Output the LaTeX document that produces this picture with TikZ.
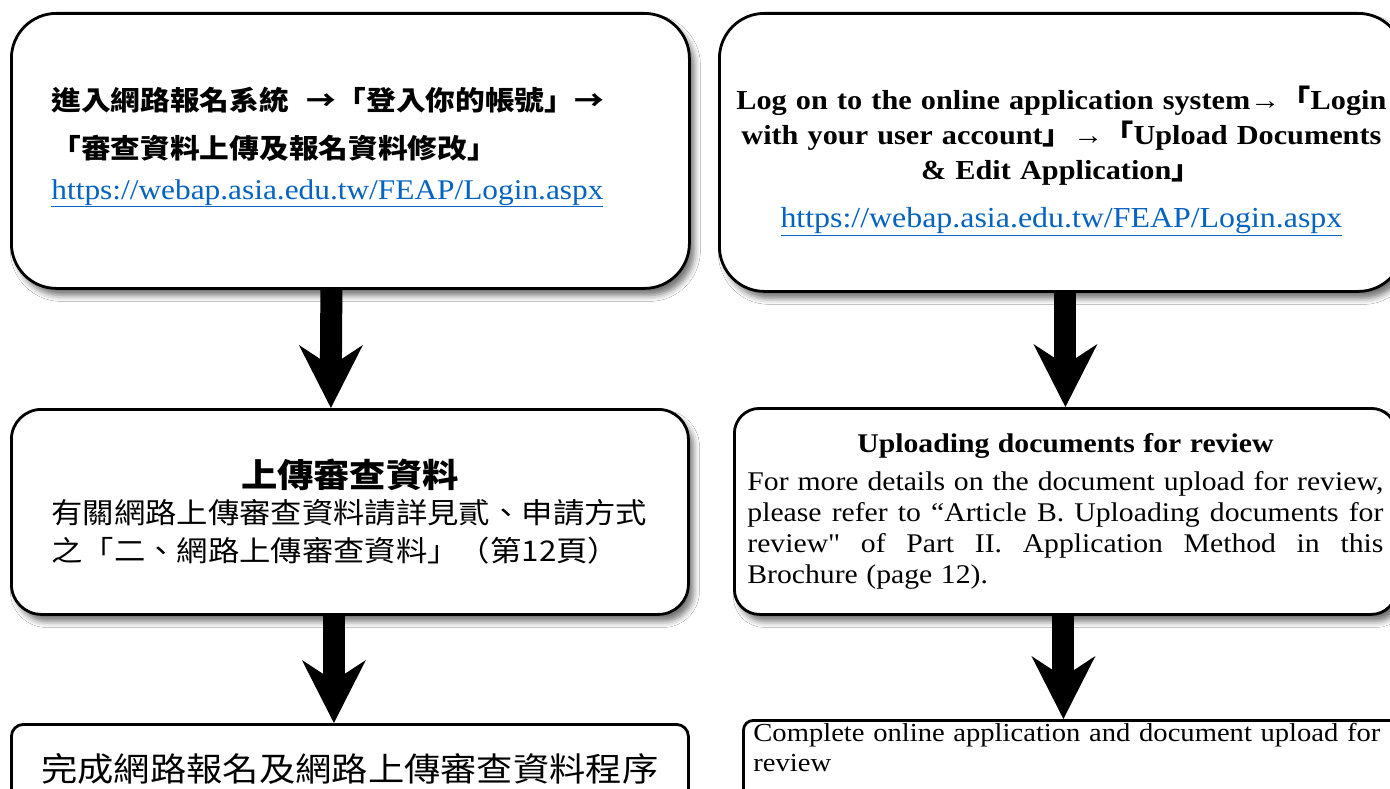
\documentclass[tikz,border=0pt]{standalone}
\usepackage{fontspec}
\setmainfont{Liberation Serif}[FakeStretch=1.1, WordSpace=1.15]
\newfontfamily\cjk{Noto Sans CJK TC}[FakeStretch=1.1]
\usepackage{tikz}
\usetikzlibrary{shadows.blur}
\definecolor{linkblue}{RGB}{5,99,193}
\newcommand{\weblink}[1]{\textcolor{linkblue}{\underline{#1}}}
\newcommand{\kbr}[1]{{\cjk #1}}
\newcommand{\straightquote}{{\addfontfeature{Ligatures=TeXOff}"}}

\begin{document}
\begin{tikzpicture}
    [
    x=1pt, y=-1pt,
    box/.style={draw, line width=2.8pt, fill=white, inner sep=0pt, anchor=north west},
    shade/.style={blur shadow={shadow xshift=5pt, shadow yshift=-7pt, shadow blur radius=6pt, shadow opacity=55}},
    shaft/.style={line width=22pt}
    ]
    \fill[white] (0,0) rectangle (1390,789);
    \useasboundingbox (0,0) rectangle (1390,789);

    % left column
    \node[box, shade, rounded corners=45pt, minimum width=678pt, minimum height=275pt,
          text width=598pt, align=left, font=\cjk\bfseries\fontsize{27}{48}\selectfont] (l1) at (10,12)
      {進入網路報名系統 \ →「登入你的帳號」→\\
       「審查資料上傳及報名資料修改」\\[-7pt]
       {\rmfamily\mdseries\fontsize{28.5}{48}\selectfont\weblink{https://webap.asia.edu.tw/FEAP/Login.aspx}\rule[-16pt]{0pt}{0pt}}};
    \node[box, shade, rounded corners=30pt, minimum width=677pt, minimum height=205pt,
          text width=597pt, align=left, font=\cjk\fontsize{28.5}{38}\selectfont] (l2) at (10,408)
      {\makebox[597pt]{\bfseries\fontsize{33}{38}\selectfont 上傳審查資料}\\[-2pt]
       有關網路上傳審查資料請詳見貳、申請方式\\
       之「二、網路上傳審查資料」（第12頁）};
    \node[box, rounded corners=12pt, minimum width=677pt, minimum height=90pt,
          font=\cjk\fontsize{33}{38}\selectfont] (l3) at (10,723)
      {完成網路報名及網路上傳審查資料程序};

    % right column
    \node[box, shade, rounded corners=45pt, minimum width=684pt, minimum height=278pt,
          text width=660pt, align=center, font=\bfseries\fontsize{27.5}{35}\selectfont] (r1) at (718,12)
      {\rule{0pt}{40pt}Log on to the online application system→\kbr{「}Login\\
       with your user account\kbr{」}→\kbr{「}Upload Documents\\
       \& Edit Application\kbr{」}\\[13pt]
       {\mdseries\fontsize{29}{35}\selectfont\weblink{https://webap.asia.edu.tw/FEAP/Login.aspx}}};
    \node[box, shade, rounded corners=25pt, minimum width=662pt, minimum height=206pt,
          text width=636pt, align=justify, font=\fontsize{27}{31}\selectfont] (r2) at (733,407)
      {\tolerance=9999\hbadness=10000
       \makebox[636pt]{\bfseries Uploading documents for review}\\[7pt]
       For more details on the document upload for review,\linebreak
       please refer to “Article B. Uploading documents for\linebreak
       review\straightquote{} of Part II. Application Method in this\linebreak
       Brochure (page 12).};
    \node[box, rounded corners=10pt, minimum width=653pt, text width=660pt, inner xsep=10pt,
          inner ysep=3pt, text depth=70pt, align=left, font=\fontsize{26}{30}\selectfont] (r3) at (742,719)
      {Complete online application and document upload for\\
       review};

    % arrows
    \draw[shaft] ([xshift=-19pt]l1.south) -- ([xshift=-19pt,yshift=42pt]l2.north);
    \fill ([xshift=-19pt]l2.north) -- ++(-32,-63) -- ++(32,21) -- ++(32,-21) -- cycle;
    \draw[shaft] ([xshift=-16pt]l2.south) -- ([xshift=-16pt,yshift=42pt]l3.north);
    \fill ([xshift=-16pt]l3.north) -- ++(-32,-63) -- ++(32,21) -- ++(32,-21) -- cycle;
    \draw[shaft] ([xshift=4pt]r1.south) -- ([yshift=42pt]r2.north);
    \fill (r2.north) -- ++(-32,-63) -- ++(32,21) -- ++(32,-21) -- cycle;
    \draw[shaft] ([xshift=-2pt]r2.south) -- ([xshift=-20pt,yshift=42pt]r3.north);
    \fill ([xshift=-20pt]r3.north) -- ++(-32,-63) -- ++(32,21) -- ++(32,-21) -- cycle;
\end{tikzpicture}
\end{document}
